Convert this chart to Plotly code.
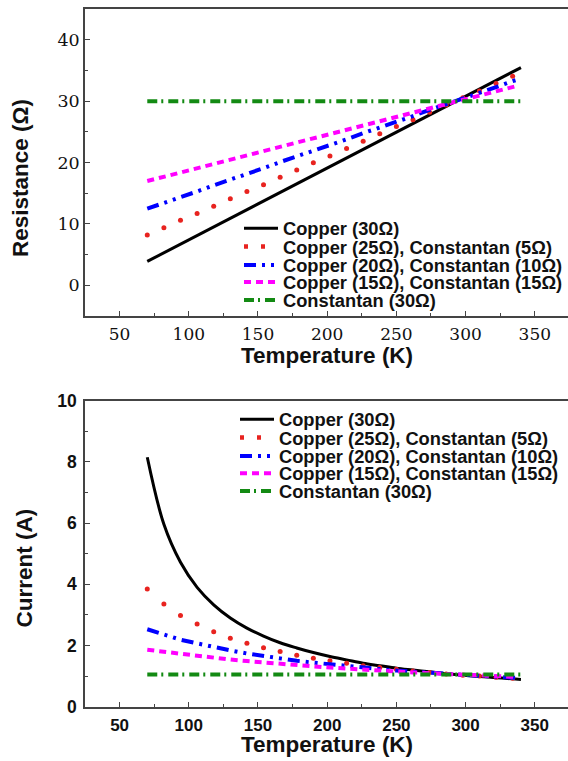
import plotly.graph_objects as go

# ---------------- data ----------------
T_points = [70, 82, 94, 106, 118, 130, 142, 154, 166, 178, 190, 202,
            214, 226, 238, 250, 262, 274, 286, 298, 310, 322, 334]
T_copper = [70, 82, 94, 106, 118, 130, 142, 154, 166, 178, 190, 202,
            214, 226, 238, 250, 262, 274, 286, 298, 310, 322, 334, 340]
T_mixed = [70, 82, 94, 106, 118, 130, 142, 154, 166, 178, 190, 202,
           214, 226, 238, 250, 262, 274, 286, 298, 310, 322, 334, 337]

R_cu30 = [3.9, 5.3, 6.7, 8.1, 9.5, 10.9, 12.3, 13.7, 15.1, 16.5, 17.9, 19.3,
          20.7, 22.2, 23.6, 25.0, 26.4, 27.8, 29.2, 30.6, 32.0, 33.4, 34.8, 35.5]
R_cu25 = [8.2, 9.4, 10.6, 11.7, 12.9, 14.1, 15.3, 16.4, 17.6, 18.8, 20.0, 21.1,
          22.3, 23.5, 24.7, 25.9, 27.0, 28.2, 29.4, 30.6, 31.7, 32.9, 34.1]
R_cu20 = [12.5, 13.4, 14.4, 15.3, 16.3, 17.2, 18.2, 19.1, 20.1, 21.0, 21.9, 22.9,
          23.8, 24.8, 25.7, 26.7, 27.6, 28.6, 29.5, 30.4, 31.4, 32.3, 33.3, 33.5]
R_cu15 = [17.0, 17.7, 18.4, 19.1, 19.8, 20.5, 21.2, 21.9, 22.6, 23.3, 24.0, 24.7,
          25.4, 26.0, 26.7, 27.4, 28.1, 28.8, 29.5, 30.2, 30.9, 31.6, 32.3, 32.5]
R_con30 = [30.0, 30.0, 30.0, 30.0, 30.0, 30.0, 30.0, 30.0, 30.0, 30.0, 30.0, 30.0,
           30.0, 30.0, 30.0, 30.0, 30.0, 30.0, 30.0, 30.0, 30.0, 30.0, 30.0, 30.0]

I_cu30 = [8.15, 5.96, 4.72, 3.90, 3.33, 2.90, 2.57, 2.31, 2.09, 1.92, 1.77, 1.64,
          1.53, 1.42, 1.34, 1.26, 1.20, 1.14, 1.08, 1.03, 0.99, 0.95, 0.91, 0.89]
I_cu25 = [3.85, 3.36, 2.98, 2.70, 2.45, 2.24, 2.07, 1.93, 1.80, 1.68, 1.58, 1.50,
          1.42, 1.34, 1.28, 1.22, 1.17, 1.12, 1.07, 1.03, 1.00, 0.96, 0.93]
I_cu20 = [2.53, 2.36, 2.19, 2.07, 1.94, 1.84, 1.74, 1.65, 1.57, 1.50, 1.44, 1.38,
          1.33, 1.27, 1.23, 1.18, 1.14, 1.10, 1.07, 1.04, 1.01, 0.98, 0.95, 0.94]
I_cu15 = [1.86, 1.79, 1.72, 1.65, 1.60, 1.54, 1.49, 1.44, 1.40, 1.36, 1.32, 1.28,
          1.24, 1.22, 1.18, 1.15, 1.12, 1.10, 1.07, 1.05, 1.02, 1.00, 0.98, 0.97]
I_con30 = [1.05, 1.05, 1.05, 1.05, 1.05, 1.05, 1.05, 1.05, 1.05, 1.05, 1.05, 1.05,
           1.05, 1.05, 1.05, 1.05, 1.05, 1.05, 1.05, 1.05, 1.05, 1.05, 1.05, 1.05]

names = ["Copper (30Ω)",
         "Copper (25Ω), Constantan (5Ω)",
         "Copper (20Ω), Constantan (10Ω)",
         "Copper (15Ω), Constantan (15Ω)",
         "Constantan (30Ω)"]

x_ticks = [50, 100, 150, 200, 250, 300, 350]

# ---------------- styling ----------------
W, H = 568, 761
C_BLACK = "#000000"
C_RED = "#e8231f"
C_BLUE = "#0000ff"
C_MAG = "#ff00ff"
C_GREEN = "#138a13"

line_black = dict(color=C_BLACK, width=3)
line_red_leg = dict(color=C_RED, width=4.5, dash="4px,13px")
line_blue = dict(color=C_BLUE, width=4, dash="12px,6px,3px,6px,3px,6px")
line_mag = dict(color=C_MAG, width=4, dash="7px,5px")
line_green = dict(color=C_GREEN, width=4, dash="10px,4px,2px,5px")

SANS = "Liberation Sans"
SERIF = "DejaVu Serif"
AX = "#444444"

fig = go.Figure()


def add_panel(xa, ya, leg_ids, Rb, Rr, Rbl, Rm, Rg, spline):
    shape = "spline" if spline else "linear"
    fig.add_trace(go.Scatter(x=T_copper, y=Rb, mode="lines", line=dict(line_black, shape=shape),
                             name=names[0], xaxis=xa, yaxis=ya, legend=leg_ids[0]))
    fig.add_trace(go.Scatter(x=T_points, y=Rr, mode="markers",
                             marker=dict(color=C_RED, size=5),
                             name=names[1], xaxis=xa, yaxis=ya, showlegend=False))
    fig.add_trace(go.Scatter(x=[None], y=[None], mode="lines", line=line_red_leg,
                             name=names[1], xaxis=xa, yaxis=ya, legend=leg_ids[1]))
    fig.add_trace(go.Scatter(x=T_mixed, y=Rbl, mode="lines", line=line_blue,
                             name=names[2], xaxis=xa, yaxis=ya, legend=leg_ids[2]))
    fig.add_trace(go.Scatter(x=T_mixed, y=Rm, mode="lines", line=line_mag,
                             name=names[3], xaxis=xa, yaxis=ya, legend=leg_ids[3]))
    fig.add_trace(go.Scatter(x=T_copper, y=Rg, mode="lines", line=line_green,
                             name=names[4], xaxis=xa, yaxis=ya, legend=leg_ids[4]))


add_panel("x", "y", ["legend", "legend2", "legend3", "legend4", "legend5"],
          R_cu30, R_cu25, R_cu20, R_cu15, R_con30, False)
add_panel("x2", "y2", ["legend6", "legend7", "legend8", "legend9", "legend10"],
          I_cu30, I_cu25, I_cu20, I_cu15, I_con30, True)

# plot-area geometry (pixels)
left_px = 85
top1, bot1 = 9.3, 316
top2, bot2 = 400.7, 706.7


def py(p):
    return 1 - p / H


def px(p):
    return p / W


common_x = dict(range=[25, 374], tickmode="array", tickvals=x_ticks,
                ticks="inside", ticklen=5, tickwidth=1, tickcolor=AX,
                minor=dict(dtick=25, tick0=25, ticks="inside", ticklen=3, tickcolor=AX),
                showline=True, linecolor=AX, linewidth=1.5, mirror=True,
                showgrid=False, zeroline=False, domain=[px(left_px), 1])

layout = dict(
    width=W, height=H,
    margin=dict(l=0, r=0, t=0, b=0, autoexpand=False),
    paper_bgcolor="white", plot_bgcolor="white",
    showlegend=True,
    xaxis=dict(common_x, anchor="y",
               tickfont=dict(family=SERIF, size=17, color="#111111"),
               ticklabelstandoff=2),
    yaxis=dict(range=[-5, 45], dtick=10, tick0=0, anchor="x",
               domain=[py(bot1), py(top1)],
               ticks="inside", ticklen=5, tickwidth=1, tickcolor=AX,
               minor=dict(dtick=5, tick0=5, ticks="inside", ticklen=3, tickcolor=AX),
               showline=True, linecolor=AX, linewidth=1.5,
               showgrid=False, zeroline=False,
               tickfont=dict(family=SERIF, size=17.5, color="#111111"),
               ticklabelstandoff=0),
    xaxis2=dict(common_x, anchor="y2",
                tickfont=dict(family=SANS, size=17, color="#111111", weight="bold"),
                ticklabelstandoff=2),
    yaxis2=dict(range=[0, 10], dtick=2, tick0=0, anchor="x2",
                domain=[py(bot2), py(top2)],
                ticks="inside", ticklen=5, tickwidth=1, tickcolor=AX,
                minor=dict(dtick=1, tick0=1, ticks="inside", ticklen=3, tickcolor=AX),
                showline=True, linecolor=AX, linewidth=1.5,
                showgrid=False, zeroline=False,
                tickfont=dict(family=SANS, size=17.5, color="#111111", weight="bold"),
                ticklabelstandoff=3),
)

leg_font = dict(family=SANS, size=18.3, color="#111111", weight="bold")
rows_top = [228.3, 246.7, 265.0, 282.0, 300.0]
rows_bot = [419.3, 437.7, 456.0, 473.3, 491.0]
leg_names = ["legend", "legend2", "legend3", "legend4", "legend5",
             "legend6", "legend7", "legend8", "legend9", "legend10"]
for i, name in enumerate(leg_names):
    if i < 5:
        yy, xx = rows_top[i], 239
    else:
        yy, xx = rows_bot[i - 5], 235
    layout[name] = dict(x=px(xx), y=py(yy), xanchor="left", yanchor="middle",
                        xref="paper", yref="paper",
                        bgcolor="rgba(0,0,0,0)", borderwidth=0,
                        font=leg_font, itemwidth=34, tracegroupgap=0)

title_font = dict(family=SANS, size=22.5, color="#111111", weight="bold")
layout["annotations"] = [
    dict(text="Temperature (K)", x=px(327), y=py(355.5), xref="paper", yref="paper",
         xanchor="center", yanchor="middle", showarrow=False, font=title_font),
    dict(text="Temperature (K)", x=px(327), y=py(744.5), xref="paper", yref="paper",
         xanchor="center", yanchor="middle", showarrow=False, font=title_font),
    dict(text="Resistance (Ω)", x=px(20), y=py(178), xref="paper", yref="paper",
         xanchor="center", yanchor="middle", showarrow=False, textangle=-90,
         font=title_font),
    dict(text="Current (A)", x=px(23.5), y=py(568), xref="paper", yref="paper",
         xanchor="center", yanchor="middle", showarrow=False, textangle=-90,
         font=title_font),
]

fig.update_layout(layout)
fig.write_html("out.html",
               config={"displayModeBar": False},
               post_script=["document.body.style.margin='0px';"
                            "document.body.style.padding='0px';"])
